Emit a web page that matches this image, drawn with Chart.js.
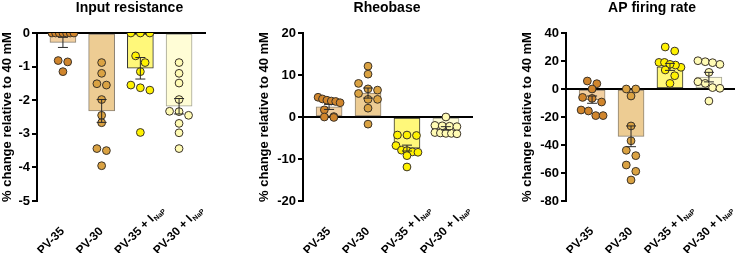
<!DOCTYPE html>
<html lang="en">
<head>
  <meta charset="UTF-8">
  <title>Input resistance, rheobase and AP firing rate</title>
  <script src="https://cdn.jsdelivr.net/npm/chart.js"></script>
  <style>
    html, body { margin: 0; padding: 0; background: #fff; }
    #wrap { position: relative; width: 735px; height: 253px; overflow: hidden; }
    #wrap canvas { position: absolute; top: 0; }
  </style>
</head>
<body>
  <div id="wrap">
    <canvas id="irChart" width="259" height="253" style="left:0px"></canvas>
    <canvas id="rbChart" width="284" height="253" style="left:245px"></canvas>
    <canvas id="apChart" width="324" height="253" style="left:490px"></canvas>
  </div>

  <script>
    // groups (the "+ I" groups get a NaP subscript)
    const categories = ['PV-35', 'PV-30', 'PV-35 + I', 'PV-30 + I'];
    const subscripts = ['', '', 'NaP', 'NaP'];
    const yTitle = '% change relative to 40 mM';

    // Input resistance
    const irMean = [-0.28, -2.32, -1.05, -2.18];
    const irSem = [0.15, 0.34, 0.32, 0.23];
    const irPV35 = [0, 0, 0, 0, 0, 0, 0, -0.82, -0.86, -1.15];
    const irPV30 = [-0.88, -1.2, -1.55, -1.51, -1.98, -2.45, -2.67, -3.44, -3.5, -3.95];
    const irPV35I = [0, 0, 0, -0.68, -0.88, -1.15, -1.55, -1.7, -1.63, -2.96];
    const irPV30I = [-0.88, -1.2, -1.49, -1.98, -2.33, -2.34, -2.45, -2.69, -2.97, -3.44];

    // Rheobase
    const rbMean = [2.4, 5.7, -7.4, -2.7];
    const rbSem = [0.6, 1.2, 0.7, 0.4];
    const rbPV35 = [4.7, 4.3, 4.0, 3.8, 3.7, 3.4, 1.7, 0.1, 0, -0.1];
    const rbPV30 = [12.1, 10.2, 8.0, 6.7, 6.4, 5.6, 4.2, 4.2, 2.1, -1.7];
    const rbPV35I = [-4.3, -4.3, -4.4, -6.8, -7.9, -8.0, -8.3, -8.4, -9.2, -11.9];
    const rbPV30I = [0, -2.0, -2.1, -2.2, -2.3, -3.7, -3.8, -3.9, -3.9, -4.0];

    // AP firing rate
    const apMean = [-7.6, -33.8, 15.8, 8.5];
    const apSem = [2.6, 7.4, 2.5, 3.4];
    const apPV35 = [3.8, 5.7, 0, -6, -6.7, -9.3, -15, -15.7, -19, -19];
    const apPV30 = [0, 0, -5, -26.4, -37, -43.8, -47.6, -54.3, -58.8, -65];
    const apPV35I = [30, 27.1, 19, 15.5, 17.1, 19, 17.6, 13.6, 9.5, 4];
    const apPV30I = [17.6, 19.5, 20.2, 18.8, 11.9, 5.2, 4.0, 1.0, 0.5, -8.6];

    const pointColors = ['#D0852C', '#DAA242', '#FFF200', '#FFFBB4'];
    const barColors = ['#F2CFA0', '#EDCC93', '#FFF87A', '#FFFDD6'];
    const barBorders = ['#8C8272', '#8C8272', '#333333', '#A3A394'];

    Chart.defaults.font.family = 'Arial, "Liberation Sans", Helvetica, sans-serif';
    Chart.defaults.color = '#000';

    // mean +/- SEM whiskers, drawn through the chart's scales
    const errorBars = {
      id: 'errorBars',
      afterDatasetsDraw(chart, args, opts) {
        const { ctx, scales: { x, y } } = chart;
        ctx.save();
        ctx.strokeStyle = '#2a2a2a';
        ctx.lineWidth = 1;
        opts.means.forEach((m, i) => {
          const px = x.getPixelForValue(i);
          const y1 = y.getPixelForValue(m - opts.sems[i]);
          const y2 = y.getPixelForValue(m + opts.sems[i]);
          ctx.beginPath();
          ctx.moveTo(px, y1); ctx.lineTo(px, y2);
          ctx.moveTo(px - 5, y1); ctx.lineTo(px + 5, y1);
          ctx.moveTo(px - 5, y2); ctx.lineTo(px + 5, y2);
          ctx.stroke();
        });
        ctx.restore();
      }
    };

    // rotated group labels with the NaP subscript
    const groupLabels = {
      id: 'groupLabels',
      afterDraw(chart) {
        const { ctx, chartArea, scales: { x } } = chart;
        categories.forEach((c, i) => {
          const px = x.getPixelForValue(i);
          ctx.save();
          ctx.translate(px - 21, chartArea.bottom + 54);
          ctx.rotate(-Math.PI / 4);
          ctx.fillStyle = '#000';
          ctx.textAlign = 'left';
          ctx.textBaseline = 'alphabetic';
          ctx.font = 'bold 12px Arial, "Liberation Sans", sans-serif';
          ctx.fillText(c, 0, 0);
          if (subscripts[i]) {
            const w = ctx.measureText(c).width;
            ctx.font = 'bold 7px Arial, "Liberation Sans", sans-serif';
            ctx.fillText(subscripts[i], w + 0.5, 2.5);
          }
          ctx.restore();
        });
      }
    };

    // points that sit at nearly the same height are spread side by side
    function spread(vals, yScale, pxPerUnit) {
      const py = vals.map(v => yScale.getPixelForValue(v));
      const idx = vals.map((v, k) => k).sort((a, b) => py[a] - py[b]);
      const off = vals.map(() => 0);
      let row = [];
      const flush = () => {
        const n = row.length;
        const s = n > 1 ? Math.min(9.5, 22 / (n - 1)) : 0;
        row.forEach((k, j) => { off[k] = (j - (n - 1) / 2) * s / pxPerUnit; });
        row = [];
      };
      idx.forEach(k => {
        if (row.length && py[k] - py[row[0]] >= 7) flush();
        row.push(k);
      });
      flush();
      return off;
    }

    function makePanel(id, title, means, sems, groups, yMin, yMax, yStep, box) {
      const ctx = document.getElementById(id).getContext('2d');
      const datasets = [{
        type: 'bar',
        data: means.map((m, i) => ({ x: i, y: m })),
        backgroundColor: barColors,
        borderColor: barBorders,
        borderWidth: 1,
        borderSkipped: false,
        barThickness: 26,
        order: 2
      }];
      groups.forEach((vals, i) => datasets.push({
        type: 'scatter',
        data: vals.map(v => ({ x: i, y: v })),
        backgroundColor: pointColors[i],
        borderColor: '#3a3228',
        borderWidth: 1,
        pointRadius: 3.9,
        order: 1
      }));

      const chart = new Chart(ctx, {
        data: { datasets },
        options: {
          responsive: false,
          animation: false,
          layout: { padding: { left: 0, right: 0, top: 0, bottom: 52 } },
          plugins: {
            legend: { display: false },
            tooltip: { enabled: false },
            title: {
              display: true,
              text: title,
              font: { size: 14, weight: 'bold' },
              color: '#000',
              padding: { top: 0, bottom: 16.2 }
            },
            errorBars: { means, sems }
          },
          scales: {
            x: {
              type: 'linear',
              min: -0.67,
              max: 3.67,
              offset: false,
              position: { y: 0 },
              ticks: { display: false },
              grid: { display: false },
              border: { display: true, color: '#000', width: 2 }
            },
            y: {
              type: 'linear',
              position: 'left',
              min: yMin,
              max: yMax,
              ticks: { stepSize: yStep, padding: 2, font: { size: 13, weight: 'bold' }, color: '#000' },
              grid: { display: true, drawOnChartArea: false, drawTicks: true, tickLength: 5, color: '#000', lineWidth: 2 },
              border: { display: true, color: '#000', width: 2 },
              title: {
                display: true,
                text: yTitle,
                font: { size: 13, weight: 'bold' },
                color: '#000',
                padding: { top: box.titlePad, bottom: 0 }
              },
              afterFit(s) { s.width = box.axisWidth; }
            },
            spacer: {
              type: 'linear',
              axis: 'y',
              position: 'right',
              display: true,
              ticks: { display: false },
              grid: { display: false },
              border: { display: false },
              afterFit(s) { s.width = box.rightWidth; }
            }
          }
        },
        plugins: [errorBars, groupLabels]
      });

      const pxPerUnit = chart.scales.x.getPixelForValue(1) - chart.scales.x.getPixelForValue(0);
      groups.forEach((vals, i) => {
        const off = spread(vals, chart.scales.y, pxPerUnit);
        chart.data.datasets[i + 1].data = vals.map((v, k) => ({ x: i + off[k], y: v }));
      });
      chart.update('none');
      return chart;
    }

    makePanel('irChart', 'Input resistance', irMean, irSem,
      [irPV35, irPV30, irPV35I, irPV30I], -5, 0, 1,
      { axisWidth: 37, rightWidth: 54, titlePad: 0 });

    makePanel('rbChart', 'Rheobase', rbMean, rbSem,
      [rbPV35, rbPV30, rbPV35I, rbPV30I], -20, 20, 10,
      { axisWidth: 58, rightWidth: 57, titlePad: 12 });

    makePanel('apChart', 'AP firing rate', apMean, apSem,
      [apPV35, apPV30, apPV35I, apPV30I], -80, 40, 20,
      { axisWidth: 76, rightWidth: 79, titlePad: 30 });
  </script>
</body>
</html>
